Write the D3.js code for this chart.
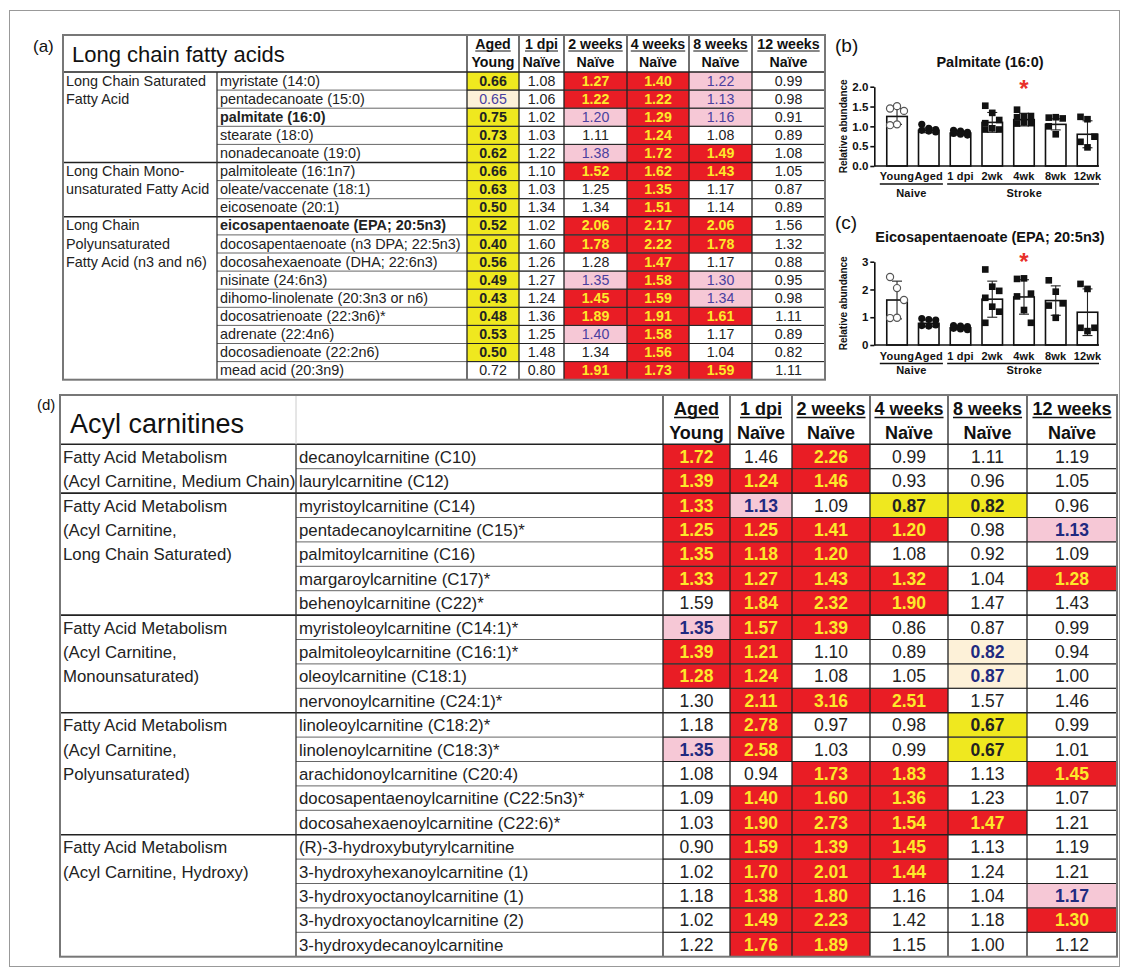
<!DOCTYPE html>
<html>
<head>
<meta charset="utf-8">
<script src="https://cdn.jsdelivr.net/npm/d3@7"></script>
<style>
body { margin: 0; background: #fff; }
svg { display: block; font-family: "Liberation Sans", Arial, Helvetica, sans-serif; }
</style>
</head>
<body>
<svg id="fig" width="1128" height="976"></svg>
<script>
// ---------- data ----------
const colTop = ["Aged", "1 dpi", "2 weeks", "4 weeks", "8 weeks", "12 weeks"];
const colBottom = ["Young", "Naïve", "Naïve", "Naïve", "Naïve", "Naïve"];

const fattyGroups = [
    ["Long Chain Saturated", "Fatty Acid"],
    ["Long Chain Mono-", "unsaturated Fatty Acid"],
    ["Long Chain", "Polyunsaturated", "Fatty Acid (n3 and n6)"]
];
const fattyGroupSizes = [5, 3, 9];
const fattyNames = [
    "myristate (14:0)", "pentadecanoate (15:0)", "palmitate (16:0)", "stearate (18:0)", "nonadecanoate (19:0)",
    "palmitoleate (16:1n7)", "oleate/vaccenate (18:1)", "eicosenoate (20:1)",
    "eicosapentaenoate (EPA; 20:5n3)", "docosapentaenoate (n3 DPA; 22:5n3)", "docosahexaenoate (DHA; 22:6n3)",
    "nisinate (24:6n3)", "dihomo-linolenate (20:3n3 or n6)", "docosatrienoate (22:3n6)*", "adrenate (22:4n6)",
    "docosadienoate (22:2n6)", "mead acid (20:3n9)"
];
const fattyBoldNames = ["palmitate (16:0)", "eicosapentaenoate (EPA; 20:5n3)"];
const fattyValues = [
    [0.66, 1.08, 1.27, 1.40, 1.22, 0.99],
    [0.65, 1.06, 1.22, 1.22, 1.13, 0.98],
    [0.75, 1.02, 1.20, 1.29, 1.16, 0.91],
    [0.73, 1.03, 1.11, 1.24, 1.08, 0.89],
    [0.62, 1.22, 1.38, 1.72, 1.49, 1.08],
    [0.66, 1.10, 1.52, 1.62, 1.43, 1.05],
    [0.63, 1.03, 1.25, 1.35, 1.17, 0.87],
    [0.50, 1.34, 1.34, 1.51, 1.14, 0.89],
    [0.52, 1.02, 2.06, 2.17, 2.06, 1.56],
    [0.40, 1.60, 1.78, 2.22, 1.78, 1.32],
    [0.56, 1.26, 1.28, 1.47, 1.17, 0.88],
    [0.49, 1.27, 1.35, 1.58, 1.30, 0.95],
    [0.43, 1.24, 1.45, 1.59, 1.34, 0.98],
    [0.48, 1.36, 1.89, 1.91, 1.61, 1.11],
    [0.53, 1.25, 1.40, 1.58, 1.17, 0.89],
    [0.50, 1.48, 1.34, 1.56, 1.04, 0.82],
    [0.72, 0.80, 1.91, 1.73, 1.59, 1.11]
];
// R = red, Y = yellow, P = pink, L = pale yellow, . = plain
const fattyFlags = [
    "Y.RRP.", "L.RRP.", "Y.PRP.", "Y..R..", "Y.PRR.", "Y.RRR.", "Y..R..", "Y..R..", "Y.RRR.",
    "Y.RRR.", "Y..R..", "Y.PRP.", "Y.RRP.", "Y.RRR.", "Y.PR..", "Y..R..", "..RRR."
];

const acylGroups = [
    ["Fatty Acid Metabolism", "(Acyl Carnitine, Medium Chain)"],
    ["Fatty Acid Metabolism", "(Acyl Carnitine,", "Long Chain Saturated)"],
    ["Fatty Acid Metabolism", "(Acyl Carnitine,", "Monounsaturated)"],
    ["Fatty Acid Metabolism", "(Acyl Carnitine,", "Polyunsaturated)"],
    ["Fatty Acid Metabolism", "(Acyl Carnitine, Hydroxy)"]
];
const acylGroupSizes = [2, 5, 4, 5, 5];
const acylNames = [
    "decanoylcarnitine (C10)", "laurylcarnitine (C12)",
    "myristoylcarnitine (C14)", "pentadecanoylcarnitine (C15)*", "palmitoylcarnitine (C16)",
    "margaroylcarnitine (C17)*", "behenoylcarnitine (C22)*",
    "myristoleoylcarnitine (C14:1)*", "palmitoleoylcarnitine (C16:1)*", "oleoylcarnitine (C18:1)",
    "nervonoylcarnitine (C24:1)*",
    "linoleoylcarnitine (C18:2)*", "linolenoylcarnitine (C18:3)*", "arachidonoylcarnitine (C20:4)",
    "docosapentaenoylcarnitine (C22:5n3)*", "docosahexaenoylcarnitine (C22:6)*",
    "(R)-3-hydroxybutyrylcarnitine", "3-hydroxyhexanoylcarnitine (1)", "3-hydroxyoctanoylcarnitine (1)",
    "3-hydroxyoctanoylcarnitine (2)", "3-hydroxydecanoylcarnitine"
];
const acylValues = [
    [1.72, 1.46, 2.26, 0.99, 1.11, 1.19],
    [1.39, 1.24, 1.46, 0.93, 0.96, 1.05],
    [1.33, 1.13, 1.09, 0.87, 0.82, 0.96],
    [1.25, 1.25, 1.41, 1.20, 0.98, 1.13],
    [1.35, 1.18, 1.20, 1.08, 0.92, 1.09],
    [1.33, 1.27, 1.43, 1.32, 1.04, 1.28],
    [1.59, 1.84, 2.32, 1.90, 1.47, 1.43],
    [1.35, 1.57, 1.39, 0.86, 0.87, 0.99],
    [1.39, 1.21, 1.10, 0.89, 0.82, 0.94],
    [1.28, 1.24, 1.08, 1.05, 0.87, 1.00],
    [1.30, 2.11, 3.16, 2.51, 1.57, 1.46],
    [1.18, 2.78, 0.97, 0.98, 0.67, 0.99],
    [1.35, 2.58, 1.03, 0.99, 0.67, 1.01],
    [1.08, 0.94, 1.73, 1.83, 1.13, 1.45],
    [1.09, 1.40, 1.60, 1.36, 1.23, 1.07],
    [1.03, 1.90, 2.73, 1.54, 1.47, 1.21],
    [0.90, 1.59, 1.39, 1.45, 1.13, 1.19],
    [1.02, 1.70, 2.01, 1.44, 1.24, 1.21],
    [1.18, 1.38, 1.80, 1.16, 1.04, 1.17],
    [1.02, 1.49, 2.23, 1.42, 1.18, 1.30],
    [1.22, 1.76, 1.89, 1.15, 1.00, 1.12]
];
const acylFlags = [
    "R.R...", "RRR...", "RP.YY.", "RRRR.P", "RRR...", "RRRR.R", ".RRR..", "PRR...", "RR..L.", "RR..L.",
    ".RRR..", ".R..Y.", "PR..Y.", "..RR.R", ".RRR..", ".RRRR.", ".RRR..", ".RRR..", ".RR..P", ".RR..R", ".RR..."
];

const barGroups = ["Young", "Aged", "1 dpi", "2wk", "4wk", "8wk", "12wk"];
const naiveGroups = ["Young", "Aged"];
const strokeGroups = ["1 dpi", "2wk", "4wk", "8wk", "12wk"];

const palmMean = [1.25, 0.90, 0.83, 1.10, 1.17, 1.05, 0.80];
const palmSD = [0.20, 0.06, 0.05, 0.25, 0.16, 0.14, 0.34];
const palmPoints = [
    [1.45, 1.51, 1.39, 1.03, 1.05],
    [1.05, 0.95, 0.92, 0.90, 0.88, 0.86],
    [0.90, 0.88, 0.85, 0.82, 0.80, 0.78],
    [1.52, 1.34, 1.16, 1.08, 0.95, 0.92, 0.92],
    [1.42, 1.25, 1.26, 1.23, 1.10, 1.08, 1.07],
    [1.22, 1.23, 1.20, 1.00, 0.80],
    [1.24, 1.18, 0.74, 0.61, 0.47]
];

const epaMean = [1.62, 0.78, 0.62, 1.65, 1.73, 1.60, 1.18];
const epaSD = [0.68, 0.12, 0.07, 0.65, 0.62, 0.53, 0.84];
const epaPoints = [
    [2.45, 2.05, 1.62, 0.97, 0.98],
    [0.95, 0.92, 0.90, 0.70, 0.68, 0.72],
    [0.70, 0.68, 0.66, 0.60, 0.58, 0.55],
    [2.72, 2.10, 1.95, 1.70, 1.38, 1.20, 0.80],
    [2.38, 2.40, 1.85, 1.75, 1.26, 0.80],
    [2.33, 1.92, 1.50, 1.42, 0.98],
    [2.20, 2.02, 0.62, 0.62, 0.50]
];

// ---------- styles ----------
const cellFill = { R: "#e91d25", Y: "#efe81f", P: "#f6c8d6", L: "#fdf1d8" };
const svg = d3.select("#fig");

svg.append("rect").attr("x", 9.5).attr("y", 10.5).attr("width", 1110).attr("height", 956)
    .attr("fill", "none").attr("stroke", "#999").attr("stroke-width", 1);

function drawTable(o) {
    const g = svg.append("g");
    const n = o.names.length;
    const bottom = o.yHead + n * o.rowH;
    const right = o.cols[6];
    const y = d3.scaleBand().domain(d3.range(n)).range([o.yHead, bottom]);
    const x = d3.scaleOrdinal().domain(d3.range(6)).range(o.cols.slice(0, 6));
    const w = j => o.cols[j + 1] - o.cols[j];

    const cells = o.values.flatMap((row, i) => row.map((v, j) => ({ i, j, v, f: o.flags[i][j] })));

    g.append("g").selectAll("rect").data(cells.filter(c => c.f !== ".")).join("rect")
        .attr("x", d => x(d.j)).attr("y", d => y(d.i))
        .attr("width", d => w(d.j)).attr("height", y.bandwidth())
        .attr("fill", d => cellFill[d.f]);

    g.append("g").selectAll("text").data(cells).join("text")
        .attr("x", d => x(d.j) + w(d.j) / 2)
        .attr("y", d => y(d.i) + o.base)
        .attr("text-anchor", "middle")
        .attr("font-size", o.valSize)
        .attr("font-weight", d => d.f === "." ? "normal" : (d.f === "R" || d.f === "Y" || o.boldBlue) ? "bold" : "normal")
        .attr("fill", d => d.f === "R" ? "#fde92a" : (d.f === "P" || d.f === "L") ? o.blue : "#222")
        .text(d => d.v.toFixed(2));

    // names
    g.append("g").selectAll("text").data(o.names).join("text")
        .attr("x", o.xCat + 3).attr("y", (d, i) => y(i) + o.base)
        .attr("font-size", o.nameSize)
        .attr("font-weight", d => o.boldNames.includes(d) ? "bold" : "normal")
        .attr("fill", "#222")
        .text(d => d);

    // category labels
    const starts = o.groupSizes.map((s, k) => d3.sum(o.groupSizes.slice(0, k)));
    const catLines = o.groups.flatMap((lines, k) => lines.map((t, l) => ({ t, row: starts[k] + l })));
    g.append("g").selectAll("text").data(catLines).join("text")
        .attr("x", o.x0 + 3).attr("y", d => y(d.row) + o.base)
        .attr("font-size", o.nameSize).attr("fill", "#222")
        .text(d => d.t);

    // horizontal rules
    const rules = d3.range(1, n).map(i => ({ i, grp: starts.includes(i) }));
    g.append("g").selectAll("line").data(rules).join("line")
        .attr("x1", d => d.grp ? o.x0 : o.xCat).attr("x2", right)
        .attr("y1", d => y(d.i)).attr("y2", d => y(d.i))
        .attr("stroke", d => d.grp ? "#222" : "#666")
        .attr("stroke-width", d => d.grp ? 1.6 : 1);
    // data-area rules darker
    g.append("g").selectAll("line").data(rules.filter(d => !d.grp)).join("line")
        .attr("x1", o.cols[0]).attr("x2", right)
        .attr("y1", d => y(d.i)).attr("y2", d => y(d.i))
        .attr("stroke", "#222").attr("stroke-width", 1);
    g.append("line").attr("x1", o.x0).attr("x2", right).attr("y1", o.yHead).attr("y2", o.yHead)
        .attr("stroke", "#222").attr("stroke-width", 1.6);

    // vertical rules
    g.append("line").attr("x1", o.xCat).attr("x2", o.xCat).attr("y1", o.yHead).attr("y2", bottom)
        .attr("stroke", "#333").attr("stroke-width", 1.3);
    if (o.faintCat) {
        g.append("line").attr("x1", o.xCat).attr("x2", o.xCat).attr("y1", o.yTop).attr("y2", o.yHead)
            .attr("stroke", "#ccc").attr("stroke-width", 1);
    }
    g.append("g").selectAll("line").data(o.cols.slice(0, 6)).join("line")
        .attr("x1", d => d).attr("x2", d => d).attr("y1", o.yTop).attr("y2", bottom)
        .attr("stroke", "#222").attr("stroke-width", 1.3);

    g.append("rect").attr("x", o.x0).attr("y", o.yTop)
        .attr("width", right - o.x0).attr("height", bottom - o.yTop)
        .attr("fill", "none").attr("stroke", "#777").attr("stroke-width", 2);

    // header
    const head = g.append("g").attr("font-weight", "bold").attr("font-size", o.headSize)
        .attr("text-anchor", "middle").attr("fill", "#111");
    const tops = head.selectAll("text.top").data(colTop).join("text").attr("class", "top")
        .attr("x", (d, j) => x(j) + w(j) / 2).attr("y", o.headY1).text(d => d);
    head.selectAll("text.bot").data(colBottom).join("text").attr("class", "bot")
        .attr("x", (d, j) => x(j) + w(j) / 2).attr("y", o.headY2).text(d => d);
    tops.each(function (d, j) {
        const len = this.getComputedTextLength();
        head.append("line")
            .attr("x1", x(j) + w(j) / 2 - len / 2).attr("x2", x(j) + w(j) / 2 + len / 2)
            .attr("y1", o.headY1 + o.ulOff).attr("y2", o.headY1 + o.ulOff)
            .attr("stroke", "#111").attr("stroke-width", o.ulW);
    });

    g.append("text").attr("x", o.titleX).attr("y", o.titleY).attr("font-size", o.titleSize)
        .attr("fill", "#111").text(o.title);
    g.append("text").attr("x", o.labX).attr("y", o.labY).attr("font-size", o.labSize)
        .attr("fill", "#111").text(o.label);
}

drawTable({
    names: fattyNames, values: fattyValues, flags: fattyFlags, groups: fattyGroups, groupSizes: fattyGroupSizes,
    boldNames: fattyBoldNames,
    x0: 63, xCat: 217, cols: [467, 519, 564, 627, 689, 752, 825],
    yTop: 35, yHead: 72, rowH: 18.1, base: 13.6,
    valSize: 14.2, nameSize: 14.4, headSize: 14.2, headY1: 49, headY2: 67, ulOff: 2, ulW: 1.2,
    blue: "#4a3f9f", boldBlue: false,
    title: "Long chain fatty acids", titleX: 72, titleY: 62, titleSize: 22,
    label: "(a)", labX: 33, labY: 52, labSize: 17
});

drawTable({
    names: acylNames, values: acylValues, flags: acylFlags, groups: acylGroups, groupSizes: acylGroupSizes,
    boldNames: [],
    x0: 60, xCat: 296, cols: [663, 730, 792, 870, 948, 1027, 1117],
    yTop: 395, yHead: 444.3, rowH: 24.4, base: 18.4,
    valSize: 17.5, nameSize: 16.8, headSize: 18, headY1: 415, headY2: 439, ulOff: 2.5, ulW: 1.5,
    blue: "#1f2a80", boldBlue: true, faintCat: true,
    title: "Acyl carnitines", titleX: 70, titleY: 433, titleSize: 27,
    label: "(d)", labX: 37, labY: 410, labSize: 15
});

// ---------- bar panels ----------
function drawPanel(o) {
    const g = svg.append("g");
    const x = d3.scaleBand().domain(barGroups).range([882, 1102.5]).paddingInner(0.354).paddingOuter(0.15);
    const y = d3.scaleLinear().domain([0, o.yMax]).range([o.y0, o.yTop]);
    const axisX = 874.3, plotR = 1099;
    const bw = x.bandwidth();
    const cx = d => x(d) + bw / 2;

    const bars = barGroups.map((k, i) => ({ k, m: o.mean[i], sd: o.sd[i], pts: o.points[i], i }));

    g.append("g").selectAll("rect").data(bars).join("rect")
        .attr("x", d => x(d.k)).attr("y", d => y(d.m))
        .attr("width", bw).attr("height", d => y(0) - y(d.m))
        .attr("fill", "#fff").attr("stroke", "#111").attr("stroke-width", 1.6);

    // error bars
    const eb = g.append("g").attr("stroke", "#222").attr("stroke-width", 1.1);
    eb.selectAll("line.v").data(bars).join("line").attr("class", "v")
        .attr("x1", d => cx(d.k)).attr("x2", d => cx(d.k))
        .attr("y1", d => y(Math.max(0, d.m - d.sd))).attr("y2", d => y(d.m + d.sd));
    eb.selectAll("line.t").data(bars).join("line").attr("class", "t")
        .attr("x1", d => cx(d.k) - 5).attr("x2", d => cx(d.k) + 5)
        .attr("y1", d => y(d.m + d.sd)).attr("y2", d => y(d.m + d.sd));
    eb.selectAll("line.b").data(bars).join("line").attr("class", "b")
        .attr("x1", d => cx(d.k) - 5).attr("x2", d => cx(d.k) + 5)
        .attr("y1", d => y(Math.max(0, d.m - d.sd))).attr("y2", d => y(Math.max(0, d.m - d.sd)));

    // points
    const pts = bars.flatMap(b => b.pts.map((v, j) => ({ k: b.k, i: b.i, v, j })));
    const sym = d3.symbol().type(d => d.i < 3 ? d3.symbolCircle : d3.symbolSquare)
        .size(d => d.i < 3 ? 40 : 44);
    g.append("g").selectAll("path").data(pts).join("path")
        .attr("transform", d => `translate(${cx(d.k) + ((d.j % 3) - 1) * bw * 0.34},${y(d.v)})`)
        .attr("d", sym)
        .attr("fill", d => d.i === 0 ? "#fff" : "#111")
        .attr("stroke", d => d.i === 0 ? "#555" : "none")
        .attr("stroke-width", 1.2);

    // axes
    const ya = g.append("g").attr("transform", `translate(${axisX},0)`)
        .call(d3.axisLeft(y).tickValues(o.ticks).tickFormat(d3.format(o.fmt)).tickSize(4).tickSizeOuter(0));
    ya.selectAll("path,line").attr("stroke", "#111").attr("stroke-width", 1.6);
    ya.selectAll("text").attr("font-size", 11.5).attr("font-weight", "bold")
        .attr("font-family", "Liberation Sans, Arial, sans-serif").attr("fill", "#111").attr("x", -6);
    g.append("line").attr("x1", axisX).attr("x2", plotR).attr("y1", y(0)).attr("y2", y(0))
        .attr("stroke", "#111").attr("stroke-width", 1.6);

    const labs = g.append("g").attr("font-size", 11).attr("font-weight", "bold")
        .attr("letter-spacing", 0.2).attr("text-anchor", "middle").attr("fill", "#111");
    const labNodes = {};
    labs.selectAll("text").data(barGroups).join("text")
        .attr("x", d => cx(d)).attr("y", o.labY).text(d => d)
        .each(function (d) { labNodes[d] = this.getComputedTextLength(); });

    [[naiveGroups, "Naive"], [strokeGroups, "Stroke"]].forEach(([grp, name]) => {
        const a = cx(grp[0]) - labNodes[grp[0]] / 2;
        const b = cx(grp[grp.length - 1]) + labNodes[grp[grp.length - 1]] / 2;
        labs.append("line").attr("x1", a).attr("x2", Math.min(b, plotR)).attr("y1", o.labY + 4).attr("y2", o.labY + 4)
            .attr("stroke", "#111").attr("stroke-width", 1.3);
        labs.append("text").attr("x", (a + b) / 2).attr("y", o.grpY).text(name);
    });

    g.append("text").attr("transform", `translate(847,${(y(0) + y(o.yMax)) / 2}) rotate(-90)`)
        .attr("text-anchor", "middle").attr("font-size", 10).attr("font-weight", "bold")
        .attr("fill", "#111").text("Relative abundance");

    g.append("text").attr("x", 990).attr("y", o.titleY).attr("text-anchor", "middle")
        .attr("font-size", 14.5).attr("font-weight", "bold").attr("fill", "#111").text(o.title);

    g.append("text").attr("x", 835).attr("y", o.panelY).attr("font-size", 19).attr("fill", "#111").text(o.label);

    g.append("text").attr("x", cx(o.star)).attr("y", o.starY).attr("text-anchor", "middle")
        .attr("font-size", 24).attr("font-weight", "bold").attr("fill", "#e8302a").text("*");
}

drawPanel({
    mean: palmMean, sd: palmSD, points: palmPoints, yMax: 2, y0: 166, yTop: 86.7,
    ticks: [0, 0.5, 1, 1.5, 2], fmt: ".1f", labY: 180, grpY: 196.5,
    title: "Palmitate (16:0)", titleY: 67, label: "(b)", panelY: 52, star: "4wk", starY: 97
});

drawPanel({
    mean: epaMean, sd: epaSD, points: epaPoints, yMax: 3, y0: 345, yTop: 261.7,
    ticks: [0, 1, 2, 3], fmt: "d", labY: 359.5, grpY: 374,
    title: "Eicosapentaenoate (EPA; 20:5n3)", titleY: 241.5, label: "(c)", panelY: 229, star: "4wk", starY: 270
});
</script>
</body>
</html>
